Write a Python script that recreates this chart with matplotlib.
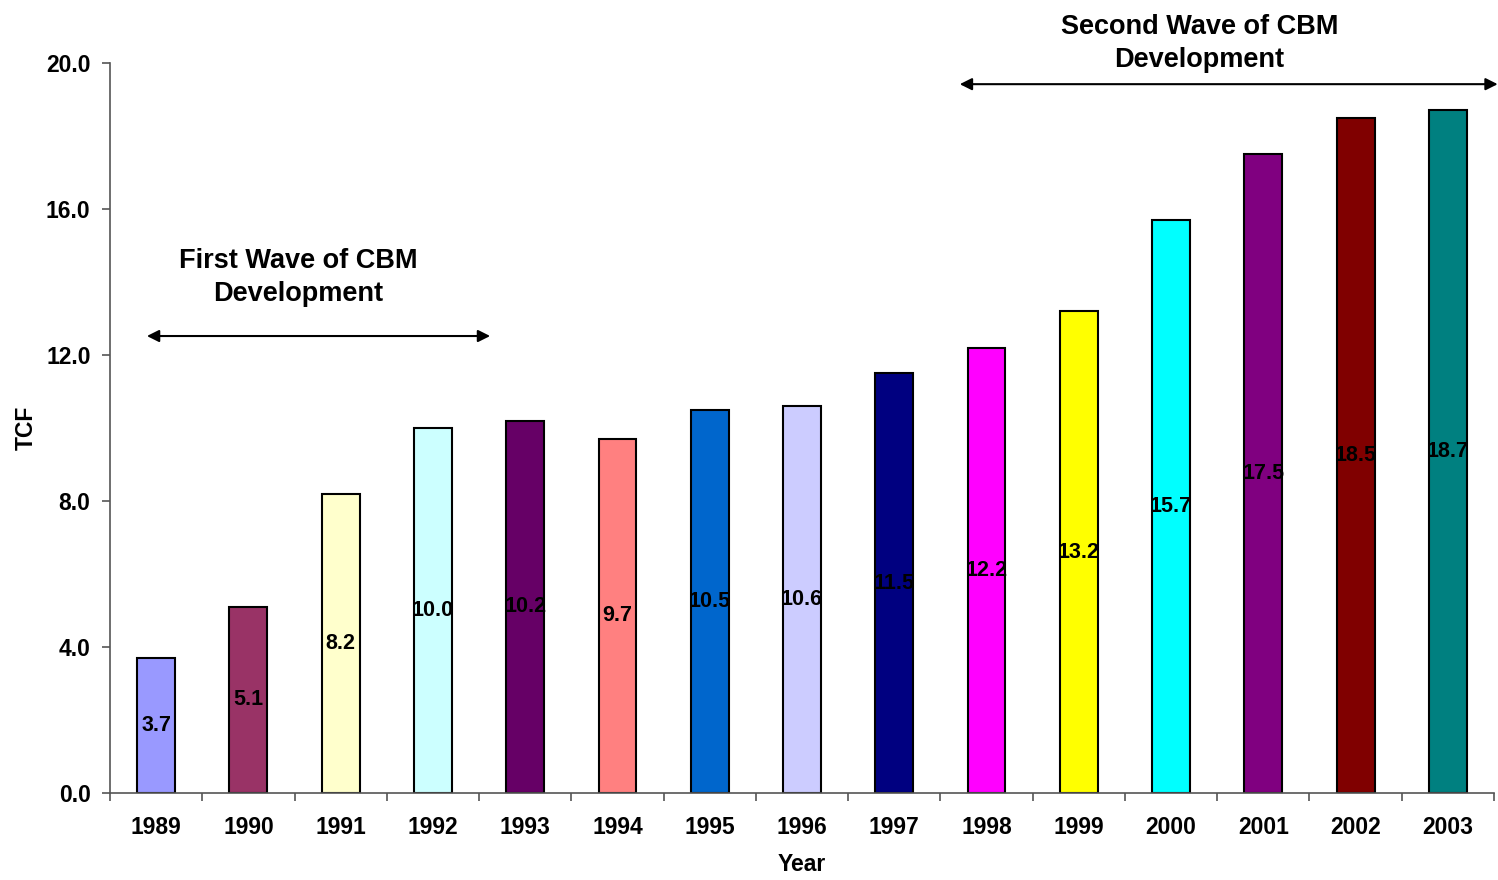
import matplotlib
matplotlib.use("Agg")
import matplotlib.pyplot as plt
import numpy as np

plt.rcParams['font.family'] = ['Liberation Sans', 'DejaVu Sans']
plt.rcParams['font.weight'] = 'bold'

years = ["1989", "1990", "1991", "1992", "1993", "1994", "1995", "1996",
         "1997", "1998", "1999", "2000", "2001", "2002", "2003"]
tcf = [3.7, 5.1, 8.2, 10.0, 10.2, 9.7, 10.5, 10.6, 11.5, 12.2, 13.2, 15.7, 17.5, 18.5, 18.7]
bar_colors = ["#9999FF", "#993366", "#FFFFCC", "#CCFFFF", "#660066", "#FF8080",
              "#0066CC", "#CCCCFF", "#000080", "#FF00FF", "#FFFF00", "#00FFFF",
              "#800080", "#800000", "#008080"]
y_ticks = [0.0, 4.0, 8.0, 12.0, 16.0, 20.0]

fig = plt.figure(figsize=(14.98, 8.8), dpi=100)
ax = fig.add_axes([110 / 1498, 1 - 793 / 880, 1384 / 1498, 730 / 880])

x = np.arange(len(years))
ax.bar(x, tcf, width=0.41, color=bar_colors, edgecolor="black", linewidth=1.5, zorder=2)

for xi, v in zip(x, tcf):
    ax.text(xi, v / 2, f"{v:.1f}", ha="center", va="center",
            fontsize=15.5, fontweight="bold", color="black", zorder=3)

ax.set_xlim(-0.5, len(years) - 0.5)
ax.set_ylim(0, 20)
ax.set_yticks(y_ticks)
ax.set_yticklabels([f"{t:.1f}" for t in y_ticks])
ax.set_xticks(x)
ax.set_xticklabels(years)
ax.set_xticks(np.arange(-0.5, len(years)), minor=True)
ax.tick_params(axis="x", which="major", length=0, pad=16.5, labelsize=16.5)
ax.tick_params(axis="x", which="minor", length=6, width=1.2, color="#555555")
ax.tick_params(axis="y", length=6, width=1.2, color="#555555", pad=8, labelsize=16.5)

for side in ("top", "right"):
    ax.spines[side].set_visible(False)
for side in ("left", "bottom"):
    ax.spines[side].set_color("#555555")
    ax.spines[side].set_linewidth(1.2)

ax.set_xlabel("Year", fontsize=16.5, fontweight="bold", labelpad=10)
ax.set_ylabel("TCF", fontsize=16.5, fontweight="bold", labelpad=6)

# Development-wave annotations
arrow_style = dict(arrowstyle="<|-|>", color="black", lw=1.5, mutation_scale=18)
ax.annotate("", xy=(-0.13, 12.52), xytext=(3.65, 12.52),
            arrowprops=arrow_style, annotation_clip=False)
ax.text(1.54, 14.13, "First Wave of CBM\nDevelopment", ha="center", va="center",
        fontsize=19.5, fontweight="bold", linespacing=1.36)

ax.annotate("", xy=(8.68, 19.42), xytext=(14.57, 19.42),
            arrowprops=arrow_style, annotation_clip=False)
ax.text(11.31, 20.53, "Second Wave of CBM\nDevelopment", ha="center", va="center",
        fontsize=19.5, fontweight="bold", linespacing=1.36, clip_on=False)

fig.savefig("out.png", dpi=100, facecolor="white")
